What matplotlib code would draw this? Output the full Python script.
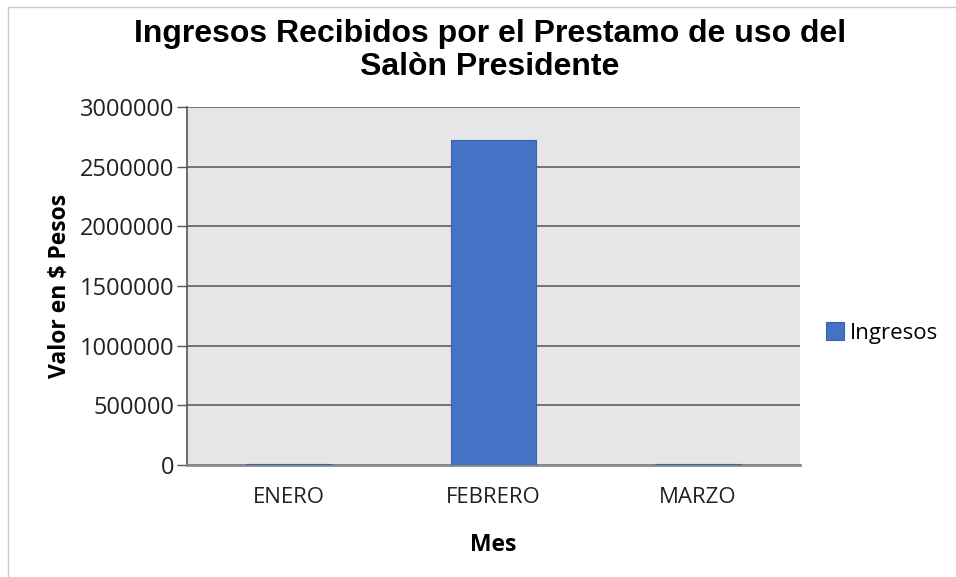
import matplotlib.pyplot as plt
from matplotlib.patches import Rectangle

# Datos
meses = ['ENERO', 'FEBRERO', 'MARZO']
ingresos = [6000, 2720000, 6000]
ticks_y = [0, 500000, 1000000, 1500000, 2000000, 2500000, 3000000]

fig = plt.figure(figsize=(9.56, 5.77), dpi=100)
ax = fig.add_axes([187/956, 112/577, 613/956, 358/577])
ax.set_facecolor('#e6e6e6')

ax.bar(meses, ingresos, width=0.42, color='#4472c4', edgecolor='#3a62a8', linewidth=0.8,
       label='Ingresos', zorder=3)

ax.set_ylim(0, 3000000)
ax.set_xlim(-0.5, 2.5)
ax.set_yticks(ticks_y)
ax.set_yticklabels([str(t) for t in ticks_y], family='Open Sans', fontsize=17, color='#222222')
ax.set_xticks(range(len(meses)))
ax.set_xticklabels(meses, family='Open Sans', fontsize=16, color='#222222')
ax.tick_params(axis='x', length=0, pad=16)
ax.tick_params(axis='y', length=7, width=1, color='#555555', pad=2)
ax.yaxis.grid(True, color='#6b6b6b', linewidth=1.3, zorder=1)
ax.set_axisbelow(True)

for s in ['top', 'right']:
    ax.spines[s].set_visible(False)
ax.spines['left'].set_color('#555555')
ax.spines['left'].set_linewidth(1.2)
ax.spines['bottom'].set_color('#8a8a8a')
ax.spines['bottom'].set_linewidth(2)

ax.set_xlabel('Mes', family='Open Sans', fontweight='bold', fontsize=16.5, labelpad=18)
ax.set_ylabel('Valor en $ Pesos', family='Open Sans', fontweight='bold', fontsize=16.5, labelpad=6)

fig.text(0.5126, 0.967, 'Ingresos Recibidos por el Prestamo de uso del\nSalòn Presidente',
         ha='center', va='top', family='Liberation Sans', fontweight='bold', fontsize=23,
         linespacing=1.12)

leg = ax.legend(loc='center left', bbox_to_anchor=(1.02, 0.369), frameon=False,
                prop={'family': 'Open Sans', 'size': 16}, handlelength=0.85, handleheight=0.85,
                handletextpad=0.25, borderaxespad=0.2)

# marco de la imagen
fig.patches.append(Rectangle((8/956, -0.1), 1.1, 1.1 - 7/577, transform=fig.transFigure,
                             fill=False, edgecolor='#c8c8c8', linewidth=1))

fig.savefig('out.png', dpi=100)
